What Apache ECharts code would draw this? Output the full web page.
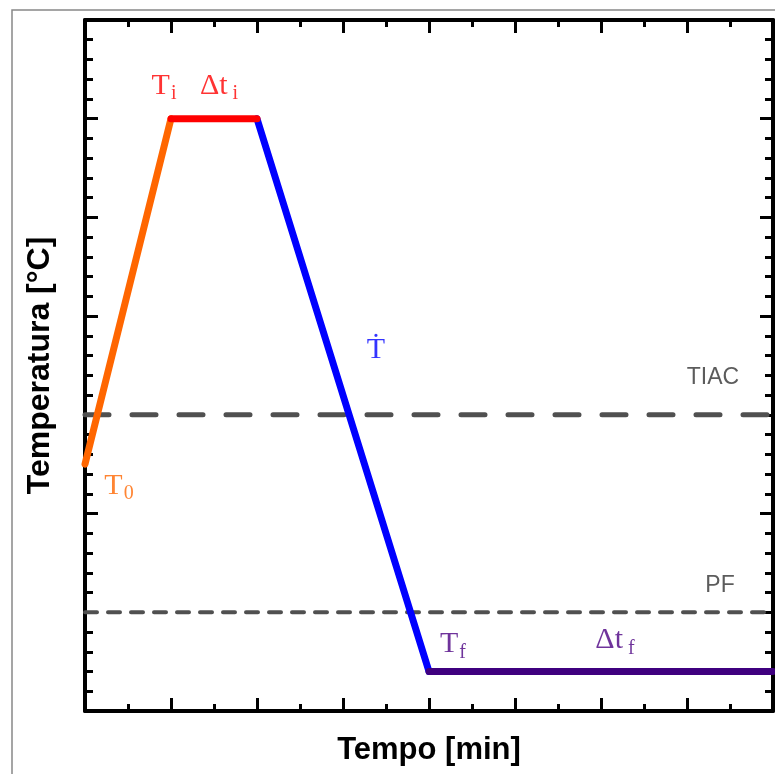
<!DOCTYPE html>
<html>
<head>
<meta charset="utf-8">
<script src="https://cdn.jsdelivr.net/npm/echarts@6/dist/echarts.min.js"></script>
<style>
  html, body { margin: 0; padding: 0; background: #ffffff; }
  #chart { width: 775px; height: 774px; }
</style>
</head>
<body>
<div id="chart"></div>
<script>
// Thermal program: heating ramp, isothermal hold, controlled cooling, final hold
const heatingTime = [0, 1];
const heatingTemp = [2.5, 6];
const holdTime = [1, 2];
const holdTemp = [6, 6];
const coolingTime = [2, 4];
const coolingTemp = [6, 0.4];
const finalTime = [4, 8];
const finalTemp = [0.4, 0.4];

// Reference temperatures (dashed levels)
const tiacLevel = 3;
const pfLevel = 1;

// Axis extents (unitless schematic)
const xRange = [0, 8];
const yRange = [0, 7];

const pairs = (xs, ys) => xs.map((x, i) => [x, ys[i]]);
const mid = (a) => (a[0] + a[a.length - 1]) / 2;

const SERIF = '"Liberation Serif", "DejaVu Serif", serif';
const SANS = '"Liberation Sans", Arial, sans-serif';

function richFor(color) {
  return {
    m: { fontFamily: SERIF, fontSize: 30, color: color, lineHeight: 32 },
    s: { fontFamily: SERIF, fontSize: 20, color: color, lineHeight: 22, padding: [16, 0, 0, 1] },
    g: { fontFamily: SERIF, fontSize: 20, color: color, lineHeight: 22, padding: [16, 0, 0, 5] }
  };
}

const red = '#ff0000', orange = '#ff6600', blue = '#0000ff', purple = '#3f007f', purpleText = '#4b0082';

// Text annotations anchored on the program's vertices and segment midpoints
const annotations = [
  { value: [heatingTime[1], heatingTemp[1]], text: '{m|T}{s|i}', color: red, offset: [-7, -33] },
  { value: [mid(holdTime), holdTemp[0]], text: '{m|Δt}{g|i}', color: red, offset: [5, -33] },
  { value: [heatingTime[0], heatingTemp[0]], text: '{m|T}{s|0}', color: orange, offset: [34, 22] },
  { value: [mid(coolingTime), mid(coolingTemp)], text: '{m|Ṫ}', color: blue, offset: [33, -45] },
  { value: [finalTime[0], finalTemp[0]], text: '{m|T}{s|f}', color: purpleText, offset: [24, -27] },
  { value: [mid(finalTime), finalTemp[0]], text: '{m|Δt}{g|f}', color: purpleText, offset: [14, -31] }
];

const levelLabels = [
  { value: [xRange[1], tiacLevel], text: 'TIAC', offset: [-60, -37] },
  { value: [xRange[1], pfLevel], text: 'PF', offset: [-53, -27] }
];

const tickCommon = {
  axisLine: { show: true, onZero: false, lineStyle: { color: '#000', width: 4 } },
  axisLabel: { show: false },
  splitLine: { show: false }
};

function xAxisDef(pos, named) {
  return Object.assign({}, tickCommon, {
    type: 'value', position: pos, min: xRange[0], max: xRange[1], interval: 1,
    axisTick: { show: true, inside: true, length: 13, lineStyle: { color: '#000', width: 3 } },
    minorTick: { show: true, splitNumber: 2, length: 7, lineStyle: { color: '#000', width: 3 } },
    name: named ? 'Tempo [min]' : '',
    nameLocation: 'middle', nameGap: 24,
    nameTextStyle: { fontFamily: SANS, fontWeight: 'bold', fontSize: 31, color: '#000' }
  });
}
function yAxisDef(pos, named) {
  return Object.assign({}, tickCommon, {
    type: 'value', position: pos, min: yRange[0], max: yRange[1], interval: 1,
    axisTick: { show: true, inside: true, length: 13, lineStyle: { color: '#000', width: 3 } },
    minorTick: { show: true, splitNumber: 5, length: 8, lineStyle: { color: '#000', width: 3 } },
    name: named ? 'Temperatura [°C]' : '',
    nameLocation: 'middle', nameGap: 29,
    nameTextStyle: { fontFamily: SANS, fontWeight: 'bold', fontSize: 32, color: '#000' }
  });
}

function segment(name, xs, ys, color, z) {
  return {
    name: name, type: 'line', data: pairs(xs, ys), symbol: 'none', z: z,
    lineStyle: { color: color, width: 7, cap: 'round', join: 'round' },
    clip: false, silent: true
  };
}

function level(name, y, dash, width) {
  return {
    name: name, type: 'line', data: pairs(xRange, [y, y]), symbol: 'none', z: 1,
    lineStyle: { color: '#505050', width: width, type: dash, cap: 'round' },
    silent: true
  };
}

const chart = echarts.init(document.getElementById('chart'), null, { renderer: 'canvas' });

chart.setOption({
  backgroundColor: '#ffffff',
  animation: false,
  grid: { left: 85, right: 2, top: 20, bottom: 63, containLabel: false },
  xAxis: [xAxisDef('bottom', true), xAxisDef('top', false)],
  yAxis: [yAxisDef('left', true), yAxisDef('right', false)],
  graphic: [{
    type: 'rect', z: -1, silent: true,
    shape: { x: 12, y: 10, width: 800, height: 800 },
    style: { fill: 'none', stroke: '#888888', lineWidth: 1.5 }
  }],
  series: [
    level('TIAC', tiacLevel, [24, 23], 5),
    level('PF', pfLevel, [12, 11], 4),
    segment('Aquecimento', heatingTime, heatingTemp, orange, 3),
    segment('Isoterma inicial', holdTime, holdTemp, red, 4),
    segment('Resfriamento', coolingTime, coolingTemp, blue, 3),
    segment('Isoterma final', finalTime, finalTemp, purple, 4),
    {
      name: 'rotulos', type: 'scatter', symbolSize: 0, z: 10, clip: false, silent: true,
      data: annotations.map(a => ({
        value: a.value,
        label: {
          show: true, position: 'inside', offset: a.offset, formatter: a.text,
          rich: richFor(a.color)
        }
      }))
    },
    {
      name: 'niveis', type: 'scatter', symbolSize: 0, z: 10, clip: false, silent: true,
      data: levelLabels.map(a => ({
        value: a.value,
        label: {
          show: true, position: 'inside', offset: a.offset, formatter: a.text,
          fontFamily: SANS, fontSize: 23, color: '#333333'
        }
      }))
    }
  ]
});
</script>
</body>
</html>
